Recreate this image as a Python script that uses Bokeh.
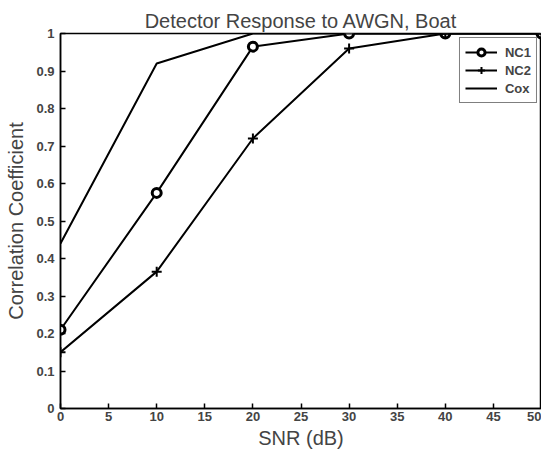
from bokeh.plotting import figure
from bokeh.models import Range1d, FixedTicker, Legend, LegendItem
from bokeh.embed import file_html
from bokeh.resources import INLINE

snr = [0, 10, 20, 30, 40, 50]
nc1 = [0.21, 0.575, 0.965, 1.0, 1.0, 1.0]
nc2 = [0.15, 0.365, 0.72, 0.96, 1.0, 1.0]
cox = [0.44, 0.92, 1.0, 1.0, 1.0, 1.0]
x_ticks = [0, 5, 10, 15, 20, 25, 30, 35, 40, 45, 50]
y_ticks = [0, 0.1, 0.2, 0.3, 0.4, 0.5, 0.6, 0.7, 0.8, 0.9, 1]
y_labels = {0: "0", 0.1: "0.1", 0.2: "0.2", 0.3: "0.3", 0.4: "0.4", 0.5: "0.5",
            0.6: "0.6", 0.7: "0.7", 0.8: "0.8", 0.9: "0.9", 1: "1"}

FONT = "Liberation Sans"

p = figure(frame_width=481, frame_height=375, output_backend="svg", toolbar_location=None,
           x_range=Range1d(0, 50), y_range=Range1d(0, 1),
           min_border_left=60, min_border_right=0, min_border_top=33, min_border_bottom=44,
           title="Detector Response to AWGN, Boat")
p.title.align = "center"
p.title.text_font = FONT
p.title.text_font_size = "20px"
p.title.text_font_style = "normal"
p.title.offset = 0
p.title.standoff = 4
p.grid.visible = False
p.outline_line_color = "black"
p.outline_line_width = 1.5

for ax in (p.xaxis[0], p.yaxis[0]):
    ax.major_tick_in = 5
    ax.major_tick_out = 0
    ax.minor_tick_line_color = None
    ax.axis_line_width = 1.5
    ax.major_tick_line_width = 1.5
    ax.major_label_text_font = FONT
    ax.major_label_text_font_size = "13px"
    ax.major_label_text_font_style = "bold"
    ax.axis_label_text_font = FONT
    ax.axis_label_text_font_size = "20px"
    ax.axis_label_text_font_style = "normal"

p.xaxis[0].ticker = FixedTicker(ticks=x_ticks)
p.yaxis[0].ticker = FixedTicker(ticks=y_ticks)
p.yaxis[0].major_label_overrides = y_labels
p.xaxis[0].axis_label = "SNR (dB)"
p.yaxis[0].axis_label = "Correlation Coefficient"
p.xaxis[0].major_label_standoff = 3
p.yaxis[0].major_label_standoff = 6
p.xaxis[0].axis_label_standoff = 3
p.yaxis[0].axis_label_standoff = 6

l1 = p.line(snr, nc1, line_color="black", line_width=2)
m1 = p.scatter(snr, nc1, marker="circle", size=9, fill_color="white",
               line_color="black", line_width=3)
l2 = p.line(snr, nc2, line_color="black", line_width=2)
m2 = p.scatter(snr, nc2, marker="cross", size=10, line_color="black", line_width=2)
l3 = p.line(snr, cox, line_color="black", line_width=2)

legend = Legend(items=[LegendItem(label="NC1", renderers=[l1, m1]),
                       LegendItem(label="NC2", renderers=[l2, m2]),
                       LegendItem(label="Cox", renderers=[l3])],
                location="top_right")
legend.label_text_font = FONT
legend.label_text_font_size = "13px"
legend.label_text_font_style = "bold"
legend.border_line_color = "black"
legend.border_line_width = 1.5
legend.glyph_width = 32
legend.glyph_height = 18
legend.spacing = 0
legend.padding = 5
legend.margin = 4
legend.label_height = 18
legend.label_standoff = 8
p.add_layout(legend, "center")

open("out.html", "w").write(file_html(p, INLINE))
